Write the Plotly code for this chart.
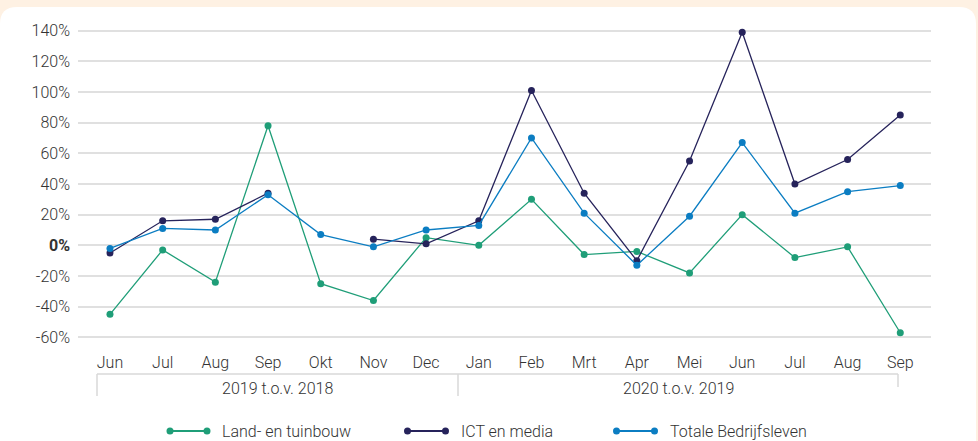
import plotly.graph_objects as go

months = ["Jun", "Jul", "Aug", "Sep", "Okt", "Nov", "Dec", "Jan",
          "Feb", "Mrt", "Apr", "Mei", "Jun", "Jul", "Aug", "Sep"]
groups = ["2019 t.o.v. 2018", "2020 t.o.v. 2019"]
series_names = ["Land- en tuinbouw", "ICT en media", "Totale Bedrijfsleven"]
land = [-45, -3, -24, 78, -25, -36, 5, 0, 30, -6, -4, -18, 20, -8, -1, -57]
ict = [-5, 16, 17, 34, None, 4, 1, 16, 101, 34, -10, 55, 139, 40, 56, 85]
totaal = [-2, 11, 10, 33, 7, -1, 10, 13, 70, 21, -13, 19, 67, 21, 35, 39]
y_ticks = [-60, -40, -20, 0, 20, 40, 60, 80, 100, 120, 140]

colors = ["#1f9e78", "#26235b", "#0b7dc2"]
W, H = 978, 441
L, R, T, B = 78, 47, 23, 96
PW, PH = W - L - R, H - T - B
TXT = "#333333"
FONT = dict(family="Roboto", size=16, color=TXT, weight=300)


def px(x):
    return (x - L) / PW


def py(y):
    return (H - B - y) / PH


x_idx = list(range(len(months)))
fig = go.Figure()
for name, vals, c in zip(series_names, [land, ict, totaal], colors):
    fig.add_trace(go.Scatter(
        x=x_idx, y=vals, name=name, mode="lines+markers",
        line=dict(color=c, width=1.3), marker=dict(color=c, size=7),
        connectgaps=False, cliponaxis=False, showlegend=False))

ticktext = [("<b>0%</b>" if v == 0 else f"{v}%") for v in y_ticks]

shapes = []
# white card on cream background
x0c, x1c, y0c, y1c, rad = 0, 976, 7, 470, 17
path = (f"M {px(x0c)},{py(y0c + rad)} Q {px(x0c)},{py(y0c)} {px(x0c + rad)},{py(y0c)} "
        f"L {px(x1c - rad)},{py(y0c)} Q {px(x1c)},{py(y0c)} {px(x1c)},{py(y0c + rad)} "
        f"L {px(x1c)},{py(y1c)} L {px(x0c)},{py(y1c)} Z")
shapes.append(dict(type="path", xref="paper", yref="paper", path=path,
                   fillcolor="white", line=dict(width=0), layer="below"))

gc = "#d9d9d9"
shapes.append(dict(type="line", xref="paper", yref="paper", x0=px(97), x1=px(898),
                   y0=py(374), y1=py(374), line=dict(color=gc, width=1.5)))
for xv, yb in [(97, 396), (458, 396), (898, 387)]:
    shapes.append(dict(type="line", xref="paper", yref="paper", x0=px(xv), x1=px(xv),
                       y0=py(374), y1=py(yb), line=dict(color=gc, width=1.5)))

annotations = []
for g, cx in zip(groups, [277.5, 678]):
    annotations.append(dict(text=g, xref="paper", yref="paper", x=px(cx), y=py(388),
                            showarrow=False, xanchor="center", yanchor="middle",
                            font=FONT))

# custom legend
leg_y = 431
for name, c, (m1, m2, tx) in zip(series_names, colors,
                                 [(170, 207, 220), (407.5, 445.5, 459), (616.5, 654.5, 668)]):
    shapes.append(dict(type="line", xref="paper", yref="paper", x0=px(m1), x1=px(m2),
                       y0=py(leg_y), y1=py(leg_y), line=dict(color=c, width=2)))
    for m in (m1, m2):
        shapes.append(dict(type="circle", xref="paper", yref="paper",
                           xsizemode="pixel", ysizemode="pixel",
                           xanchor=px(m), yanchor=py(leg_y),
                           x0=-3.5, x1=3.5, y0=-3.5, y1=3.5,
                           fillcolor=c, line=dict(width=0)))
    annotations.append(dict(text=name, xref="paper", yref="paper", x=px(tx), y=py(leg_y),
                            showarrow=False, xanchor="left", yanchor="middle",
                            font=FONT))

fig.update_layout(
    width=W, height=H, margin=dict(l=L, r=R, t=T, b=B),
    paper_bgcolor="#fef1e3", plot_bgcolor="white",
    font=FONT, hovermode=False,
    shapes=shapes, annotations=annotations,
    xaxis=dict(range=[-0.607, 15.583], tickvals=x_idx, ticktext=months,
               showgrid=False, zeroline=False, showline=False, ticks="",
               ticklabelstandoff=6, tickfont=FONT),
    yaxis=dict(range=[-65, 145], tickvals=y_ticks, ticktext=ticktext,
               showgrid=True, gridcolor="#e0e0e0", gridwidth=1.5,
               zeroline=False, showline=False, ticks="",
               ticklabelstandoff=7, tickfont=FONT),
)

fig.write_html("out.html", config={"displayModeBar": False},
               post_script="document.body.style.margin='0';document.body.style.padding='0';")
